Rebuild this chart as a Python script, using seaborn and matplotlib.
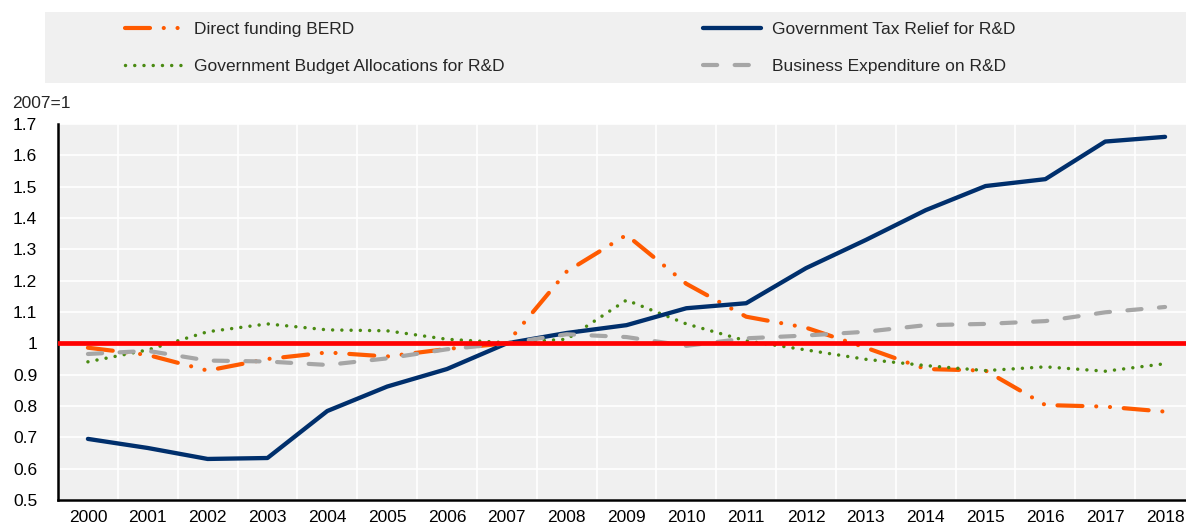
import matplotlib
matplotlib.use("Agg")
import matplotlib.pyplot as plt
import seaborn as sns
import pandas as pd
from matplotlib.patches import Rectangle
from matplotlib.lines import Line2D

# values (index 2007=1)
years = list(range(2000, 2019))
direct_berd = [0.986, 0.963, 0.913, 0.950, 0.971, 0.958, 0.982, 1.000, 1.229, 1.346,
               1.190, 1.085, 1.050, 0.986, 0.918, 0.913, 0.803, 0.798, 0.782]
gbard = [0.941, 0.979, 1.037, 1.062, 1.043, 1.040, 1.013, 1.002, 1.013, 1.138,
         1.062, 1.008, 0.979, 0.949, 0.929, 0.913, 0.925, 0.911, 0.935]
tax_relief = [0.695, 0.666, 0.631, 0.634, 0.784, 0.862, 0.918, 1.000, 1.033, 1.058,
              1.112, 1.128, 1.240, 1.330, 1.425, 1.502, 1.524, 1.644, 1.659]
berd = [0.966, 0.976, 0.945, 0.942, 0.931, 0.952, 0.981, 1.000, 1.029, 1.020,
        0.992, 1.016, 1.025, 1.037, 1.058, 1.062, 1.071, 1.099, 1.116]

series_names = ["Direct funding BERD", "Government Budget Allocations for R&D",
                "Government Tax Relief for R&D", "Business Expenditure on R&D"]
y_ticks = [0.5, 0.6, 0.7, 0.8, 0.9, 1.0, 1.1, 1.2, 1.3, 1.4, 1.5, 1.6, 1.7]

df = pd.DataFrame({"Year": years,
                   series_names[0]: direct_berd,
                   series_names[1]: gbard,
                   series_names[2]: tax_relief,
                   series_names[3]: berd})
long_df = df.melt(id_vars="Year", var_name="Series", value_name="Index")

styles = {
    series_names[0]: dict(color="#FF5A00", linewidth=3.0, linestyle=(0, (6.0, 3.3, 0.01, 3.3, 0.01, 3.3))),
    series_names[1]: dict(color="#4A8A12", linewidth=2.5, linestyle=(0, (0.01, 2.65))),
    series_names[2]: dict(color="#002F6C", linewidth=3.1, linestyle="-"),
    series_names[3]: dict(color="#A6A6A6", linewidth=3.0, linestyle=(0, (3.4, 4.2))),
}

sns.set_theme(style="white")
plt.rcParams["font.family"] = ["Liberation Sans", "DejaVu Sans"]

fig = plt.figure(figsize=(11.86, 5.28), dpi=100)
ax = fig.add_axes([58 / 1186, 28 / 528, 1137 / 1186, 376 / 528])
ax.set_facecolor("#F0F0F0")

for name in series_names:
    sub = long_df[long_df["Series"] == name]
    sns.lineplot(data=sub, x="Year", y="Index", ax=ax, legend=False,
                 dash_capstyle="round", solid_capstyle="round",
                 solid_joinstyle="round", **styles[name])

ax.axhline(1.0, color="#FF0000", linewidth=3.4, zorder=5)

ax.set_xlim(years[0] - 0.5, years[-1] + 0.5)
ax.set_ylim(0.5, 1.7)
ax.set_xticks(years)
ax.set_xticklabels([str(y) for y in years])
ax.set_xticks([y + 0.5 for y in years[:-1]], minor=True)
ax.set_yticks(y_ticks)
ax.set_yticklabels(["%g" % v for v in y_ticks])
ax.set_xlabel("")
ax.set_ylabel("")

ax.grid(False)
ax.grid(True, which="minor", axis="x", color="white", linewidth=1.2)
ax.grid(True, which="major", axis="y", color="white", linewidth=1.2)
ax.tick_params(axis="x", which="major", length=0, pad=7, labelsize=12.5, colors="black")
ax.tick_params(axis="x", which="minor", length=5, width=1.5, direction="out", color="black")
ax.tick_params(axis="y", which="major", length=5, width=1.2, direction="in", pad=15,
               labelsize=12.5, colors="black")

for side in ["top", "right"]:
    ax.spines[side].set_visible(False)
for side in ["left", "bottom"]:
    ax.spines[side].set_color("black")
    ax.spines[side].set_linewidth(1.8)

fig.text(12 / 1186, 1 - 103 / 528, "2007=1", fontsize=12.5, va="center", ha="left")

# legend band
fig.patches.append(Rectangle((45 / 1186, 1 - 83 / 528), 1 - 45 / 1186, 71 / 528,
                             transform=fig.transFigure, facecolor="#F0F0F0",
                             edgecolor="none", zorder=0))

handles = []
for name in series_names:
    st = styles[name]
    handles.append(Line2D([0], [0], color=st["color"], linewidth=st["linewidth"],
                          linestyle=st["linestyle"], dash_capstyle="round",
                          solid_capstyle="round"))

leg_kw = dict(frameon=False, fontsize=12.5, handlelength=3.35, handletextpad=0.6,
              labelspacing=1.25, borderpad=0, borderaxespad=0, loc="upper left")
fig.legend(handles[:2], series_names[:2], bbox_to_anchor=(125 / 1186, 1 - 22 / 528), **leg_kw)
fig.legend(handles[2:], series_names[2:], bbox_to_anchor=(703 / 1186, 1 - 22 / 528), **leg_kw)

fig.savefig("out.png", dpi=100)
